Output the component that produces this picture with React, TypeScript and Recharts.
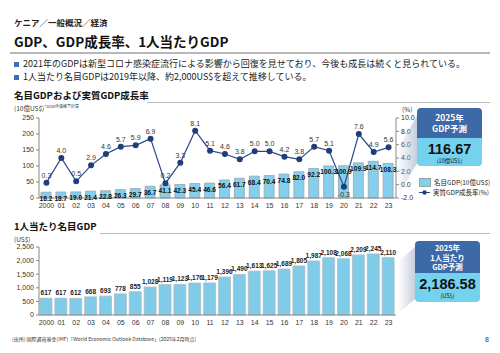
import React from "react";
import {
  ComposedChart, BarChart, Bar, Line, XAxis, YAxis, LabelList,
} from "recharts";

const years = [
  "2000", "01", "02", "03", "04", "05", "06", "07", "08", "09", "10", "11",
  "12", "13", "14", "15", "16", "17", "18", "19", "20", "21", "22", "23",
];
const nominalGdp = [
  18.2, 18.7, 19.0, 21.4, 22.8, 26.3, 29.7, 36.7, 41.1, 42.3, 45.4, 46.6,
  56.4, 61.7, 68.4, 70.4, 74.8, 82.0, 92.2, 100.3, 100.9, 109.9, 114.7, 108.3,
];
const realGrowth = [
  0.3, 4.0, 0.5, 2.9, 4.6, 5.7, 5.9, 6.9, 0.2, 3.3, 8.1, 5.1,
  4.6, 3.8, 5.0, 5.0, 4.2, 3.8, 5.7, 5.1, -0.3, 7.6, 4.9, 5.6,
];
const gdpPerCapita = [
  617, 617, 612, 668, 693, 778, 855, 1028, 1119, 1123, 1176, 1179,
  1396, 1490, 1613, 1625, 1689, 1805, 1987, 2108, 2068, 2209, 2245, 2110,
];
const gdpTicks = [0, 50, 100, 150, 200, 250];
const growthTicks = [-2, 0, 2, 4, 6, 8, 10];
const perCapitaTicks = [0, 500, 1000, 1500, 2000, 2500];

const topData = years.map((y, i) => ({ year: y, gdp: nominalGdp[i], growth: realGrowth[i] }));
const bottomData = years.map((y, i) => ({ year: y, pc: gdpPerCapita[i] }));

const FONT = "'Liberation Sans', 'Noto Sans CJK JP', sans-serif";
const JP = "'Noto Sans CJK JP', 'Liberation Sans', sans-serif";
const tick = { fontSize: 7, fill: "#333", fontFamily: FONT };

const fmt = (v: number) => v.toLocaleString("en-US");

function GdpLabel(props: any) {
  const { x, y, width, value } = props;
  return (
    <text x={x + width / 2} y={y + 6} textAnchor="middle" dominantBaseline="central"
      fontSize={6.6} fontWeight="bold" fill="#111" fontFamily={FONT}>
      {Number(value).toFixed(1)}
    </text>
  );
}

function GrowthLabel(props: any) {
  const { x, y, value } = props;
  const below = value < 0;
  return (
    <text x={x} y={below ? y + 10 : y - 5} textAnchor="middle"
      fontSize={7} fill="#333" fontFamily={FONT}>
      {Number(value).toFixed(1)}
    </text>
  );
}

function PcLabel(props: any) {
  const { x, y, width, value } = props;
  return (
    <text x={x + width / 2} y={y - 3} textAnchor="middle"
      fontSize={6.5} fontWeight="bold" fill="#222" fontFamily={FONT}>
      {fmt(value)}
    </text>
  );
}

function TopLegend() {
  return (
    <div style={{ fontFamily: JP, fontSize: 6.5, color: "#222", lineHeight: "10px", whiteSpace: "nowrap" }}>
      <div style={{ display: "flex", alignItems: "center" }}>
        <span style={{ display: "inline-block", width: 10, height: 7, background: "#86cfec", border: "0.5px solid #8aa", marginRight: 3 }} />
        名目GDP(10億US$)
      </div>
      <div style={{ display: "flex", alignItems: "center" }}>
        <svg width={11} height={7} style={{ marginRight: 3 }}>
          <line x1={0} y1={3.5} x2={11} y2={3.5} stroke="#2a4a86" strokeWidth={1} />
          <circle cx={5.5} cy={3.5} r={2.2} fill="#1f3d7a" />
        </svg>
        実質GDP成長率(%)
      </div>
    </div>
  );
}

function abs(left: number, top: number, extra: React.CSSProperties = {}): React.CSSProperties {
  return { position: "absolute", left, top, ...extra };
}

export default function App() {
  return (
    <div style={{ position: "absolute", left: 0, top: 0, width: 500, height: 353, background: "#fff", fontFamily: JP, overflow: "hidden" }}>
      {/* header */}
      <div style={abs(14, 16, { fontSize: 8.5, fontWeight: "bold", color: "#222" })}>ケニア／一般概況／経済</div>
      <div style={abs(14, 31, { fontSize: 13.5, fontWeight: "bold", color: "#111", whiteSpace: "nowrap" })}>GDP、GDP成長率、1人当たりGDP</div>
      <div style={abs(10, 52, { width: 480, height: 1.5, background: "#b8b8b8" })} />
      <div style={abs(14, 57, { fontSize: 9, color: "#222", whiteSpace: "nowrap", lineHeight: "13px" })}>
        <div><span style={{ display: "inline-block", width: 5, height: 5, background: "#3b6fb6", marginRight: 4, verticalAlign: "middle" }} />2021年のGDPは新型コロナ感染症流行による影響から回復を見せており、今後も成長は続くと見られている。</div>
        <div><span style={{ display: "inline-block", width: 5, height: 5, background: "#3b6fb6", marginRight: 4, verticalAlign: "middle" }} />1人当たり名目GDPは2019年以降、約2,000US$を超えて推移している。</div>
      </div>

      {/* top chart */}
      <div style={abs(14, 88, { fontSize: 9.5, fontWeight: "bold", color: "#111", whiteSpace: "nowrap" })}>名目GDPおよび実質GDP成長率</div>
      <div style={abs(147, 102, { width: 343, height: 1.2, background: "#b8b8b8" })} />
      <div style={abs(14, 103, { fontSize: 6.5, color: "#333", whiteSpace: "nowrap" })}>
        (10億US$)<span style={{ fontSize: 4, verticalAlign: "top" }}>*2020年価格で計算</span>
      </div>
      <div style={abs(402, 104, { fontSize: 6.5, color: "#333" })}>(%)</div>

      <div style={abs(0, 0)}>
        <ComposedChart width={500} height={215} data={topData}
          margin={{ top: 118, right: 74, bottom: 3, left: 0 }} barCategoryGap={0}>
          <XAxis dataKey="year" height={14} tick={tick} tickLine={false} tickSize={3}
            axisLine={{ stroke: "#888" }} interval={0} />
          <YAxis yAxisId="l" width={39} domain={[0, 250]} ticks={gdpTicks} tick={tick}
            tickSize={3} tickMargin={2} axisLine={{ stroke: "#888" }} tickLine={{ stroke: "#888" }} />
          <YAxis yAxisId="r" orientation="right" width={30} domain={[-2, 10]} ticks={growthTicks}
            tick={tick} tickSize={3} tickMargin={2} tickFormatter={(v: number) => v.toFixed(1)}
            axisLine={{ stroke: "#888" }} tickLine={{ stroke: "#888" }} />
          <Bar yAxisId="l" dataKey="gdp" barSize={10} fill="#86cfec" stroke="#9aa5ad" strokeWidth={0.8}
            isAnimationActive={false}>
            <LabelList dataKey="gdp" content={<GdpLabel />} />
          </Bar>
          <Line yAxisId="r" dataKey="growth" stroke="#2a4a86" strokeWidth={1.2}
            dot={{ r: 2.4, fill: "#1f3d7a", stroke: "#1f3d7a" }} isAnimationActive={false}>
            <LabelList dataKey="growth" content={<GrowthLabel />} />
          </Line>
        </ComposedChart>
      </div>
      <div style={abs(419, 177)}><TopLegend /></div>

      {/* bottom chart */}
      <div style={abs(14, 219, { fontSize: 9.5, fontWeight: "bold", color: "#111", whiteSpace: "nowrap" })}>1人当たり名目GDP</div>
      <div style={abs(100, 233, { width: 390, height: 1.2, background: "#b8b8b8" })} />
      <div style={abs(14, 234, { fontSize: 6.5, color: "#333" })}>(US$)</div>

      <div style={abs(0, 200)}>
        <BarChart width={500} height={140} data={bottomData}
          margin={{ top: 47, right: 104, bottom: 11, left: 0 }} barCategoryGap={0}>
          <XAxis dataKey="year" height={14} tick={tick} tickLine={false} tickSize={3}
            axisLine={{ stroke: "#888" }} interval={0} />
          <YAxis width={39} domain={[0, 2500]} ticks={perCapitaTicks} tick={tick} tickFormatter={fmt}
            tickSize={3} tickMargin={2} axisLine={{ stroke: "#888" }} tickLine={{ stroke: "#888" }} />
          <Bar dataKey="pc" barSize={12} fill="#80cbe8" stroke="#b0bcc4" strokeWidth={0.8}
            isAnimationActive={false}>
            <LabelList dataKey="pc" content={<PcLabel />} />
          </Bar>
        </BarChart>
      </div>

      {/* callout tails */}
      <svg width={500} height={353} style={abs(0, 0, { pointerEvents: "none" })}>
        <defs>
          <linearGradient id="tail" x1="0" y1="0" x2="1" y2="0">
            <stop offset="0" stopColor="#aab6cc" stopOpacity={0} />
            <stop offset="1" stopColor="#aab6cc" stopOpacity={0.7} />
          </linearGradient>
        </defs>
        <polygon points="418,114 418,162 397,196 397,150" fill="url(#tail)" />
        <polygon points="416,246 416,298 398,314 398,262" fill="url(#tail)" />
      </svg>

      {/* callout boxes */}
      <div style={abs(417, 108, { width: 65, height: 58, borderRadius: 4, overflow: "hidden", textAlign: "center" })}>
        <div style={{ height: 30, background: "#3d69a7", color: "#fff", fontSize: 8.5, fontWeight: "bold", lineHeight: "11px", paddingTop: 4, boxSizing: "border-box" }}>
          2025年<br />GDP予測
        </div>
        <div style={{ height: 28, background: "#74d2ee", color: "#111" }}>
          <div style={{ fontFamily: FONT, fontSize: 14.5, fontWeight: "bold", lineHeight: "17px", paddingTop: 3 }}>116.67</div>
          <div style={{ fontSize: 5.5, lineHeight: "7px" }}>(10億US$)</div>
        </div>
      </div>
      <div style={abs(415, 241, { width: 65, height: 61, borderRadius: 4, overflow: "hidden", textAlign: "center" })}>
        <div style={{ height: 32, background: "#3d69a7", color: "#fff", fontSize: 7.5, fontWeight: "bold", lineHeight: "9.5px", paddingTop: 2, boxSizing: "border-box" }}>
          2025年<br />1人当たり<br />GDP予測
        </div>
        <div style={{ height: 29, background: "#74d2ee", color: "#111" }}>
          <div style={{ fontFamily: FONT, fontSize: 14.5, fontWeight: "bold", lineHeight: "17px", paddingTop: 3 }}>2,186.58</div>
          <div style={{ fontSize: 5.5, lineHeight: "7px" }}>(US$)</div>
        </div>
      </div>

      {/* footer */}
      <div style={abs(12, 335, { fontSize: 5, color: "#333", whiteSpace: "nowrap" })}>
        (出所) 国際通貨基金(IMF)「World Economic Outlook Database」(2025年2月時点)
      </div>
      <div style={abs(485, 336, { fontSize: 7, color: "#333", fontFamily: FONT })}>8</div>
    </div>
  );
}
